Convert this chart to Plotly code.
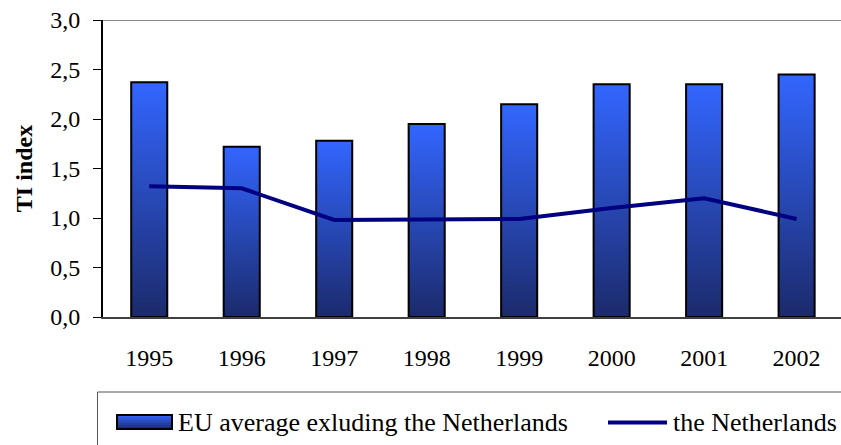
import plotly.graph_objects as go

# ---- data ----
years = ["1995", "1996", "1997", "1998", "1999", "2000", "2001", "2002"]
eu_average = [2.37, 1.72, 1.78, 1.95, 2.15, 2.35, 2.35, 2.45]
netherlands = [1.32, 1.30, 0.98, 0.99, 0.99, 1.10, 1.20, 0.99]

bar_name = "EU average exluding the Netherlands"
line_name = "the Netherlands"

# ---- styling ----
FONT = "Liberation Serif"
BAR_TOP = "#3366ff"
BAR_BOTTOM = "#1b2a6b"
LINE_COLOR = "#000080"
BAR_WIDTH = 0.39

W, H = 841, 445
L, R, T, B = 103, 841, 20, 317  # plot area in pixels


def px_x(p):
    return (p - L) / (R - L)


def px_y(p):
    return (B - p) / (B - T)


def mix(c1, c2, t):
    a = [int(c1[i:i + 2], 16) for i in (1, 3, 5)]
    b = [int(c2[i:i + 2], 16) for i in (1, 3, 5)]
    return "#" + "".join(f"{round(x + (y - x) * t):02x}" for x, y in zip(a, b))


fig = go.Figure()

# gradient-filled bars, one closed polygon per year
for i, (yr, v) in enumerate(zip(years, eu_average)):
    x0, x1 = i - BAR_WIDTH / 2, i + BAR_WIDTH / 2
    fig.add_trace(go.Scatter(
        x=[x0, x1, x1, x0, x0], y=[0, 0, v, v, 0],
        mode="lines", fill="toself",
        fillgradient=dict(type="vertical",
                          colorscale=[[0, BAR_BOTTOM], [1, BAR_TOP]]),
        line=dict(color="black", width=2),
        name=bar_name, legendgroup="eu", showlegend=False,
        hovertemplate=f"{yr}: {v:.2f}<extra>{bar_name}</extra>",
    ))

fig.add_trace(go.Scatter(
    x=list(range(len(years))), y=netherlands, mode="lines",
    line=dict(color=LINE_COLOR, width=4),
    name=line_name, showlegend=False,
))

tickfont = dict(family=FONT, size=24, color="black")
xrange = [-0.5, 7.48]
boundaries = [i + 0.5 for i in range(len(years) - 1)]

fig.update_layout(
    width=W, height=H,
    margin=dict(l=L, r=W - R, t=T, b=H - B, pad=0),
    paper_bgcolor="white", plot_bgcolor="white",
    separators=",.",
    font=dict(family=FONT, color="black"),
    xaxis=dict(
        range=xrange, tickmode="array",
        tickvals=list(range(len(years))), ticktext=years,
        ticks="", showgrid=False, zeroline=False,
        showline=True, linecolor="#404040", linewidth=2,
        tickfont=tickfont, ticklabelstandoff=18,
    ),
    xaxis2=dict(
        overlaying="x", anchor="y", range=xrange,
        tickmode="array", tickvals=boundaries, ticks="outside",
        ticklen=8, tickwidth=1, tickcolor="#404040",
        showticklabels=False, showgrid=False, zeroline=False, showline=False,
    ),
    xaxis3=dict(
        overlaying="x", anchor="y", range=xrange,
        tickmode="array", tickvals=boundaries, ticks="inside",
        ticklen=8, tickwidth=1, tickcolor="#404040",
        showticklabels=False, showgrid=False, zeroline=False, showline=False,
    ),
    yaxis=dict(
        range=[0, 3], tickmode="array",
        tickvals=[0, 0.5, 1, 1.5, 2, 2.5, 3], tickformat=".1f",
        ticks="outside", ticklen=8, tickwidth=1, tickcolor="black",
        showline=True, linecolor="black", linewidth=2,
        showgrid=False, zeroline=False,
        tickfont=tickfont, ticklabelstandoff=8,
        title=dict(text="<b>TI index</b>", standoff=11,
                   font=dict(family=FONT, size=24, color="black")),
    ),
    yaxis2=dict(
        overlaying="y", anchor="x", range=[0, 3], side="left",
        tickmode="array", tickvals=[0, 0.5, 1, 1.5, 2, 2.5, 3],
        ticks="inside", ticklen=7, tickwidth=1, tickcolor="black",
        showticklabels=False, showgrid=False, zeroline=False, showline=False,
    ),
)

shapes = [
    # top border of the plot area
    dict(type="line", xref="paper", yref="y", x0=0, x1=1, y0=3, y1=3,
         line=dict(color="#8a8a8a", width=2), layer="below"),
    # legend frame (runs off the bottom-right of the page)
    dict(type="rect", xref="paper", yref="paper",
         x0=px_x(97.5), x1=px_x(870), y0=px_y(392), y1=px_y(480),
         line=dict(color="#555555", width=1), fillcolor="rgba(0,0,0,0)"),
]

# legend key for the bars: stacked strips forming the gradient
key_top, key_bot, strips = 415, 429, 7
for k in range(strips):
    y_a = key_top + (key_bot - key_top) * k / strips
    y_b = key_top + (key_bot - key_top) * (k + 1) / strips
    shapes.append(dict(type="rect", xref="paper", yref="paper",
                       x0=px_x(117), x1=px_x(172), y0=px_y(y_b), y1=px_y(y_a),
                       line=dict(width=0),
                       fillcolor=mix(BAR_TOP, BAR_BOTTOM, (k + 0.5) / strips)))
shapes.append(dict(type="rect", xref="paper", yref="paper",
                   x0=px_x(117), x1=px_x(172), y0=px_y(key_bot), y1=px_y(key_top),
                   line=dict(color="black", width=2), fillcolor="rgba(0,0,0,0)"))
# legend key for the line
shapes.append(dict(type="line", xref="paper", yref="paper",
                   x0=px_x(608), x1=px_x(667), y0=px_y(422.5), y1=px_y(422.5),
                   line=dict(color=LINE_COLOR, width=4)))

fig.update_layout(shapes=shapes)

legend_font = dict(family=FONT, size=26, color="black")
fig.add_annotation(text=bar_name, xref="paper", yref="paper",
                   x=px_x(176), y=px_y(422), xanchor="left", yanchor="middle",
                   showarrow=False, font=legend_font)
fig.add_annotation(text=line_name, xref="paper", yref="paper",
                   x=px_x(671), y=px_y(422), xanchor="left", yanchor="middle",
                   showarrow=False, font=legend_font)

fig.write_html("out.html")
